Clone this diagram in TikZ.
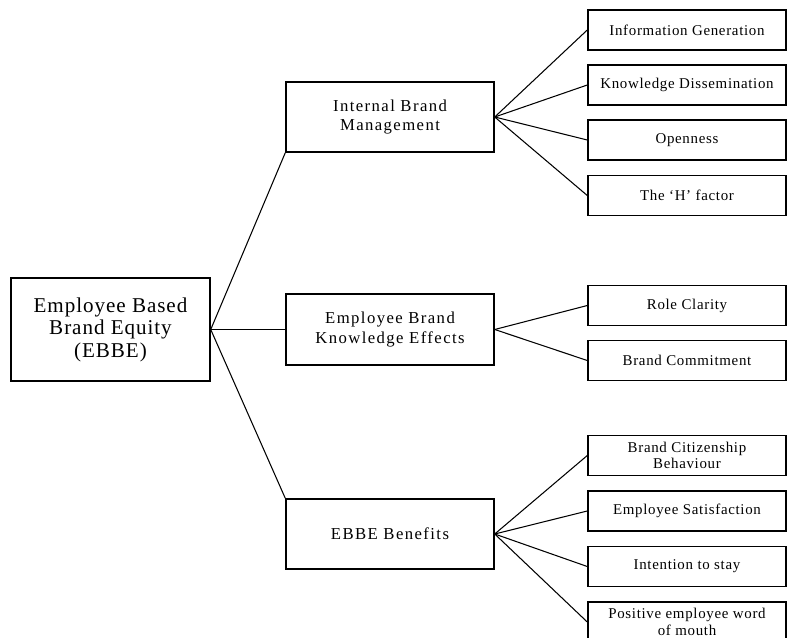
\documentclass[tikz,border=0pt]{standalone}
\usepackage{fontspec}
\setmainfont{Liberation Serif}
\newfontfamily\rootfont[LetterSpace=4.5]{Liberation Serif}
\newfontfamily\midfont[LetterSpace=8.5]{Liberation Serif}
\newfontfamily\leaffont[LetterSpace=4.6]{Liberation Serif}
\usetikzlibrary{positioning}

\begin{document}
\begin{tikzpicture}[x=0.02cm, y=0.02cm,
  rootbox/.style={draw, line width=0.85pt, minimum width=3.98cm, minimum height=2.06cm, inner sep=2pt, align=center, font=\rootfont\fontsize{12}{12.8}\selectfont},
  midbox/.style={draw, line width=0.85pt, minimum width=4.16cm, minimum height=1.4cm, inner sep=2pt, align=center, font=\midfont\fontsize{9.5}{11.3}\selectfont},
  leafbox/.style={draw, line width=0.85pt, minimum width=3.96cm, minimum height=0.8cm, inner sep=1pt, align=center, font=\leaffont\fontsize{8.5}{9.4}\selectfont},
  link/.style={line width=0.6pt}]
 \useasboundingbox (0,0) rectangle (787,637);
 \node[rootbox] (ebbe) at (110.5,307.5) {Employee Based\\Brand Equity\\(EBBE)};
 \node[midbox] (ibm) at (390,520) {Internal Brand\\Management};
 \node[midbox, minimum height=1.42cm] (ebke) at (390,307.5) {Employee Brand\\Knowledge Effects};
 \node[midbox] (benefits) at (390,103) {EBBE Benefits};
 \node[leafbox] (infogen) at (687,607) {Information Generation};
 \node[leafbox] (knowdis) at (687,552) {Knowledge Dissemination};
 \node[leafbox] (open) at (687,497) {Openness};
 \node[leafbox] (hfactor) at (687,441.5) {The ‘H’ factor};
 \node[leafbox] (roleclar) at (687,331.5) {Role Clarity};
 \node[leafbox] (brandcom) at (687,276.5) {Brand Commitment};
 \node[leafbox] (citizen) at (687,181.5) {Brand Citizenship\\Behaviour};
 \node[leafbox] (empsat) at (687,126) {Employee Satisfaction};
 \node[leafbox] (intstay) at (687,70.5) {Intention to stay};
 \node[leafbox] (wordmouth) at (687,15) {Positive employee word\\of mouth};
 \draw[link] (ebbe.east) -- (ibm.south west);
 \draw[link] (ebbe.east) -- (ebke.west);
 \draw[link] (ebbe.east) -- (benefits.north west);
 \draw[link] (ibm.east) -- (infogen.west);
 \draw[link] (ibm.east) -- (knowdis.west);
 \draw[link] (ibm.east) -- (open.west);
 \draw[link] (ibm.east) -- (hfactor.west);
 \draw[link] (ebke.east) -- (roleclar.west);
 \draw[link] (ebke.east) -- (brandcom.west);
 \draw[link] (benefits.east) -- (citizen.west);
 \draw[link] (benefits.east) -- (empsat.west);
 \draw[link] (benefits.east) -- (intstay.west);
 \draw[link] (benefits.east) -- (wordmouth.west);
\end{tikzpicture}
\end{document}
